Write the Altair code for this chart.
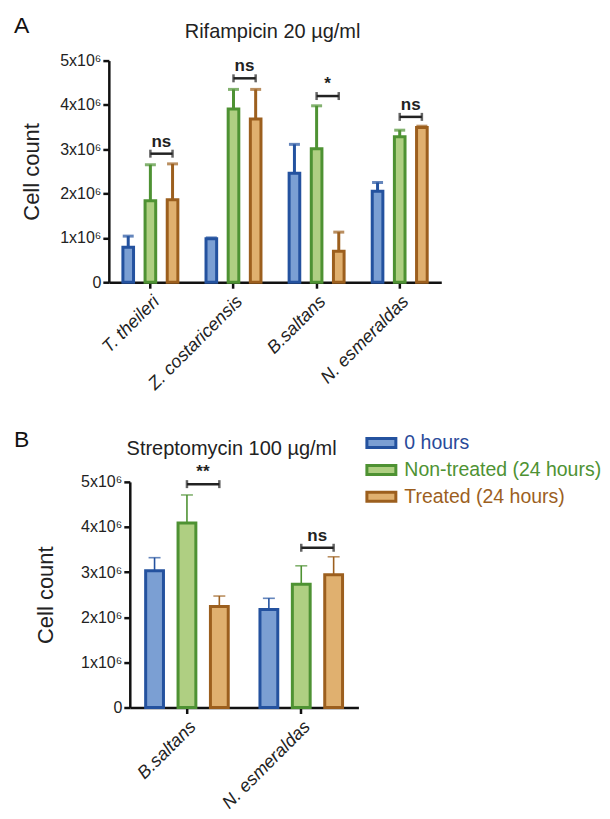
import altair as alt
import pandas as pd

# ---------------- data ----------------
groups = ["0 hours", "Non-treated (24 hours)", "Treated (24 hours)"]
fill_colors = ["#7B9FD3", "#AFCF82", "#E0B06F"]
stroke_colors = ["#24529F", "#4E9233", "#9C5F1E"]
label_colors = ["#2A4A99", "#4E9233", "#9C5F1E"]

# Panel A: Rifampicin 20 µg/ml (values in cells)
species_A = ["T. theileri", "Z. costaricensis", "B.saltans", "N. esmeraldas"]
mean_A_0h = [0.79e6, 0.98e6, 2.46e6, 2.05e6]
upper_A_0h = [1.04e6, 1.00e6, 3.11e6, 2.25e6]
mean_A_nt = [1.84e6, 3.91e6, 3.01e6, 3.28e6]
upper_A_nt = [2.65e6, 4.35e6, 3.98e6, 3.43e6]
mean_A_tr = [1.86e6, 3.68e6, 0.70e6, 3.49e6]
upper_A_tr = [2.67e6, 4.35e6, 1.13e6, 3.52e6]
bracket_A = [2.9e6, 4.6e6, 4.2e6, 3.73e6]
signif_A = ["ns", "ns", "*", "ns"]

# Panel B: Streptomycin 100 µg/ml
species_B = ["B.saltans", "N. esmeraldas"]
mean_B_0h = [3.03e6, 2.17e6]
upper_B_0h = [3.32e6, 2.42e6]
mean_B_nt = [4.09e6, 2.73e6]
upper_B_nt = [4.71e6, 3.14e6]
mean_B_tr = [2.24e6, 2.94e6]
upper_B_tr = [2.47e6, 3.34e6]
bracket_B = [4.95e6, 3.54e6]
signif_B = ["**", "ns"]

y_ticks = [0, 1e6, 2e6, 3e6, 4e6, 5e6]

FONT = "Liberation Sans"


def bar_table(species, means, uppers):
    rows = []
    for g, m_list, u_list in zip(groups, means, uppers):
        for s, m, u in zip(species, m_list, u_list):
            rows.append({"species": s, "group": g, "mean": m, "upper": u})
    return pd.DataFrame(rows)


def bracket_table(species, ys, labels):
    rows = []
    for s, yv, lab in zip(species, ys, labels):
        for g in groups[1:]:
            rows.append({"species": s, "group": g, "y": yv, "label": lab})
    return pd.DataFrame(rows)


label_color_expr = (
    f"datum.label === '{groups[0]}' ? '{label_colors[0]}' : "
    f"datum.label === '{groups[1]}' ? '{label_colors[1]}' : '{label_colors[2]}'"
)


def panel(species, means, uppers, brk, sig, width, height, shift, pad_x, pad_off,
          err_w, cap_w, text_dx, letter, letter_x, letter_y, title, title_x,
          title_y, title_pad, show_legend):
    bars = bar_table(species, means, uppers)
    brackets = bracket_table(species, brk, sig)

    x_scale = alt.Scale(paddingInner=pad_x, paddingOuter=pad_x / 2)
    if shift:
        x_scale = alt.Scale(paddingInner=pad_x, paddingOuter=pad_x / 2,
                            range=[shift, width])
    x = alt.X("species:N", sort=species, title=None, scale=x_scale,
              axis=alt.Axis(labelAngle=-45, labelFontStyle="italic",
                            labelFontSize=18, labelColor="#222", labelPadding=4,
                            tickSize=6, labelFont=FONT))
    xo = alt.XOffset("group:N", sort=groups,
                     scale=alt.Scale(domain=groups, paddingInner=pad_off,
                                     paddingOuter=pad_off / 2))
    y = alt.Y("mean:Q", title="Cell count",
              scale=alt.Scale(domain=[0, 5e6], nice=False),
              axis=alt.Axis(values=y_ticks, titlePadding=title_pad, offset=-shift,
                            labelExpr="datum.value == 0 ? '0' : format(datum.value / 1e6, 'd') + 'x10\u2076'",
                            labelFontSize=16, labelColor="#222", titleFontSize=22,
                            titleFontWeight="normal", titleColor="#222",
                            tickSize=6, labelFont=FONT, titleFont=FONT))

    if show_legend:
        leg = alt.Legend(title=None, orient="none", legendX=257, legendY=-55,
                         symbolType="M-1,-0.31H1V0.31H-1Z", symbolSize=841,
                         symbolStrokeWidth=3, labelFontSize=19.5, labelFont=FONT,
                         labelOffset=7, rowPadding=-6, padding=0,
                         labelLimit=400,
                         labelColor={"expr": label_color_expr})
    else:
        leg = None

    fill = alt.Fill("group:N", sort=groups,
                    scale=alt.Scale(domain=groups, range=fill_colors), legend=leg)
    stroke = alt.Stroke("group:N", sort=groups,
                        scale=alt.Scale(domain=groups, range=stroke_colors), legend=leg)

    base = alt.Chart(bars)
    bar_layer = base.mark_bar(strokeWidth=3).encode(x=x, xOffset=xo, y=y, fill=fill, stroke=stroke)
    err_layer = base.mark_rule(strokeWidth=err_w).encode(
        x=x, xOffset=xo, y="mean:Q", y2="upper:Q", stroke=stroke)
    cap_layer = base.mark_tick(orient="horizontal", size=cap_w, thickness=err_w).encode(
        x=x, xOffset=xo, y="upper:Q", color=alt.Color("group:N", sort=groups,
            scale=alt.Scale(domain=groups, range=stroke_colors), legend=None))

    bbase = alt.Chart(brackets)
    br_line = bbase.mark_line(strokeWidth=2.5, color="#222").encode(
        x=x, xOffset=xo, y="y:Q", detail="species:N")
    br_ends = bbase.mark_tick(orient="vertical", size=8, thickness=2.5, color="#222").encode(
        x=x, xOffset=xo, y="y:Q")
    br_text = bbase.transform_filter(
        alt.datum.group == groups[1]).mark_text(
        dx=text_dx, dy=-3, baseline="bottom", fontWeight="bold", fontSize=17,
        font=FONT, color="#222").encode(x=x, xOffset=xo, y="y:Q", text="label:N")

    letter_layer = alt.Chart(pd.DataFrame({"t": [letter]})).mark_text(
        align="left", baseline="alphabetic", fontSize=23, font=FONT, color="#111").encode(
        x=alt.value(letter_x), y=alt.value(letter_y), text="t:N")
    title_layer = alt.Chart(pd.DataFrame({"t": [title]})).mark_text(
        align="center", baseline="alphabetic", fontSize=20, font=FONT, color="#222").encode(
        x=alt.value(title_x), y=alt.value(title_y), text="t:N")

    return alt.layer(bar_layer, err_layer, cap_layer, br_line, br_ends, br_text,
                     letter_layer, title_layer).properties(
        width=width, height=height,
    ).resolve_scale(color="independent")


chart_A = panel(species_A, [mean_A_0h, mean_A_nt, mean_A_tr],
                [upper_A_0h, upper_A_nt, upper_A_tr], bracket_A, signif_A,
                width=333, height=222, shift=0, pad_x=0.2, pad_off=0.52, err_w=3, cap_w=11,
                text_dx=11, letter="A", letter_x=-95, letter_y=-28,
                title="Rifampicin 20 µg/ml", title_x=164, title_y=-23, title_pad=16,
                show_legend=False)

chart_B = panel(species_B, [mean_B_0h, mean_B_nt, mean_B_tr],
                [upper_B_0h, upper_B_nt, upper_B_tr], bracket_B, signif_B,
                width=250, height=226, shift=21, pad_x=0.15, pad_off=0.45, err_w=1.6, cap_w=12,
                text_dx=16, letter="B", letter_x=-95, letter_y=-35,
                title="Streptomycin 100 µg/ml", title_x=123, title_y=-27, title_pad=23,
                show_legend=True)

chart = alt.concat(chart_A, chart_B, columns=1, spacing=33).resolve_scale(
    fill="independent", stroke="independent", color="independent",
    xOffset="independent", x="independent", y="independent"
).properties(
    padding={"left": 6, "top": 6, "right": 0, "bottom": 0}
).configure(font=FONT).configure_view(stroke=None).configure_axis(
    grid=False, domainColor="#111", domainWidth=2.5, tickColor="#111", tickWidth=2.5
)

chart.save("out.html", embed_options={"renderer": "svg", "actions": False})
